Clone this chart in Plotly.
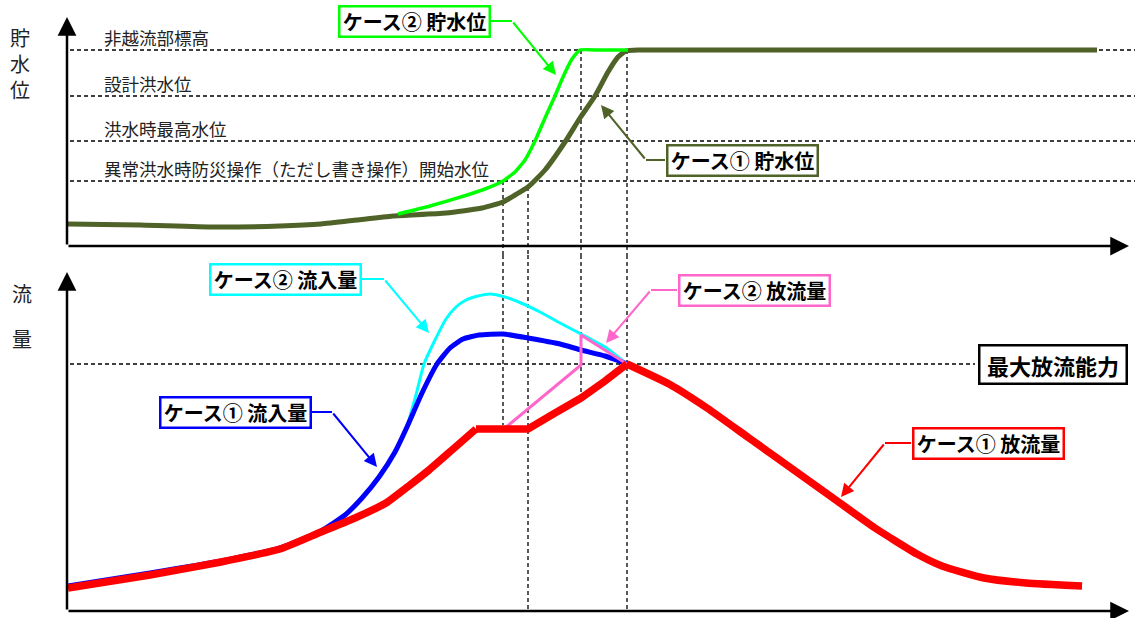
import plotly.graph_objects as go

# 時間 (任意単位) と 貯水位・流量 (任意単位)
t_level1 = [1, 73, 147, 213, 254, 290, 326, 379, 415, 436, 448, 461, 478, 498, 513, 528, 541, 551, 559, 573, 1030]
level1 = [22, 21, 19, 20, 22, 26, 30, 33, 38, 44, 51, 59, 76, 104, 128, 150, 174, 189, 195, 196, 196]

t_level2 = [331, 363, 397, 418, 436, 448, 458, 468, 478, 488, 496, 505, 513, 533, 561]
level2 = [32, 40, 50, 57, 65, 74, 86, 105, 128, 150, 169, 187, 196, 196, 196]

t_in1 = [1, 83, 154, 213, 254, 278, 295, 312, 328, 340, 355, 370, 383, 396, 412, 436, 461, 493, 514,
         538, 560, 602, 640, 682, 724, 766, 808, 850, 875, 917, 959, 1015]
in1 = [25, 38, 50, 63, 80, 96, 113, 134, 159, 184, 218, 247, 263, 272, 276, 277, 273, 267, 261,
       255, 247, 227, 203, 173, 143, 113, 83, 57, 45, 33, 28, 25]

t_in2 = [340, 349, 357, 368, 379, 389, 399, 411, 423, 438, 454, 473, 493, 514, 538, 560]
in2 = [184, 216, 247, 271, 292, 304, 311, 315, 317, 314, 308, 299, 288, 277, 264, 247]

t_out1 = [1, 83, 154, 213, 254, 288, 319, 343, 362, 385, 409, 461, 488, 514, 538, 560,
          602, 640, 682, 724, 766, 808, 850, 875, 917, 959, 1015]
out1 = [23, 36, 49, 62, 79, 93, 108, 126, 141, 161, 182, 182, 198, 213, 230, 247,
        227, 203, 173, 143, 113, 83, 57, 45, 33, 28, 25]

t_out2 = [438, 514, 514, 560]
out2 = [183, 246, 276, 247]

level_names = ['非越流部標高', '設計洪水位', '洪水時最高水位', '異常洪水時防災操作（ただし書き操作）開始水位']
level_values = [196, 150, 105, 65]
q_max = 247

# 時刻の目印 (縦の破線)
mark_t = [436, 461, 514, 560]
mark_level_top = [65, 59, 196, 196]
mark_flow_end = [186, 0, 213, 0]

FONT = 'Noto Sans CJK JP'
OLIVE = '#4F6228'
GREEN = '#00FF00'
CYAN = '#00FFFF'
BLUE = '#0000FF'
RED = '#FF0000'
PINK = '#FF66CC'
DASH = dict(color='black', width=1.3, dash='4px,3px')

X_RANGE = [-67, 1068]
TOP_RANGE = [-9, 246]
BOT_RANGE = [-7, 356]
SPLIT = 1 - 255 / 618

fig = go.Figure()

# 破線 (上段: 水位, 下段: 最大放流能力)
for v in level_values:
    fig.add_trace(go.Scatter(x=[3, X_RANGE[1]], y=[v, v], mode='lines', line=DASH,
                             xaxis='x', yaxis='y', hoverinfo='skip'))
fig.add_trace(go.Scatter(x=[3, 908], y=[q_max, q_max], mode='lines', line=DASH,
                         xaxis='x', yaxis='y2', hoverinfo='skip'))
for t, top, end in zip(mark_t, mark_level_top, mark_flow_end):
    fig.add_trace(go.Scatter(x=[t, t], y=[top, TOP_RANGE[0]], mode='lines', line=DASH,
                             xaxis='x', yaxis='y', hoverinfo='skip'))
    fig.add_trace(go.Scatter(x=[t, t], y=[BOT_RANGE[1], end], mode='lines', line=DASH,
                             xaxis='x', yaxis='y2', hoverinfo='skip'))

# 貯水位
fig.add_trace(go.Scatter(x=t_level1, y=level1, mode='lines', name='ケース① 貯水位',
                         line=dict(color=OLIVE, width=5, shape='spline', smoothing=0.5),
                         xaxis='x', yaxis='y'))
fig.add_trace(go.Scatter(x=t_level2, y=level2, mode='lines', name='ケース② 貯水位',
                         line=dict(color=GREEN, width=3.5, shape='spline', smoothing=0.4),
                         xaxis='x', yaxis='y'))

# 流量
fig.add_trace(go.Scatter(x=t_in2, y=in2, mode='lines', name='ケース② 流入量',
                         line=dict(color=CYAN, width=3, shape='spline', smoothing=0.5),
                         xaxis='x', yaxis='y2'))
fig.add_trace(go.Scatter(x=t_in1, y=in1, mode='lines', name='ケース① 流入量',
                         line=dict(color=BLUE, width=5, shape='spline', smoothing=0.5),
                         xaxis='x', yaxis='y2'))
fig.add_trace(go.Scatter(x=t_out2, y=out2, mode='lines', name='ケース② 放流量',
                         line=dict(color=PINK, width=3),
                         xaxis='x', yaxis='y2'))

# ケース① 放流量: 上昇部・一定量放流〜ピーク・低減部 (折れ点は角のまま)
plateau_i = t_out1.index(409)
peak_i = t_out1.index(560)
for i0, i1, shape in [(0, plateau_i, 'spline'), (plateau_i, peak_i, 'linear'),
                      (peak_i, len(t_out1) - 1, 'spline')]:
    fig.add_trace(go.Scatter(x=t_out1[i0:i1 + 1], y=out1[i0:i1 + 1], mode='lines',
                             name='ケース① 放流量',
                             line=dict(color=RED, width=7.5, shape=shape, smoothing=0.5),
                             xaxis='x', yaxis='y2'))

annotations = []
shapes = []

# 軸の矢印
for yref, top in [('y', 229), ('y2', 339)]:
    annotations.append(dict(x=0, y=top, ax=0, ay=0, xref='x', yref=yref, axref='x', ayref=yref,
                            text='', showarrow=True, arrowhead=2, arrowsize=1.5,
                            arrowwidth=2.5, arrowcolor='black'))
    annotations.append(dict(x=1062, y=0, ax=0, ay=0, xref='x', yref=yref, axref='x', ayref=yref,
                            text='', showarrow=True, arrowhead=2, arrowsize=1.5,
                            arrowwidth=2.5, arrowcolor='black'))

# 水位名
for name, v in zip(level_names, level_values):
    annotations.append(dict(x=35, y=v + 13, xref='x', yref='y', text=name, showarrow=False,
                            xanchor='left', yanchor='middle',
                            font=dict(family=FONT, size=17.5, color='#222222')))

# 縦軸名
annotations.append(dict(x=-47, y=183, xref='x', yref='y', text='貯<br>水<br>位', showarrow=False,
                        font=dict(family=FONT, size=20, color='#222222')))
for ch, y in [('流', 318), ('量', 273)]:
    annotations.append(dict(x=-45, y=y, xref='x', yref='y2', text=ch, showarrow=False,
                            font=dict(family=FONT, size=20, color='#222222')))

# ラベル枠と引出線
labels = [
    # text, color, center, yref, stub (x0, x1, y), arrow head
    ('ケース② 貯水位', GREEN, (347, 225), 'y', (424, 445, 225), (489, 171)),
    ('ケース① 貯水位', OLIVE, (675, 86), 'y', (598, 579, 86), (534, 141)),
    ('ケース② 流入量', CYAN, (218, 332), 'y2', (294, 317, 332), (362, 278)),
    ('ケース① 流入量', BLUE, (168, 199), 'y2', (244, 265, 199), (310, 144)),
    ('ケース② 放流量', PINK, (687, 321), 'y2', (610, 584, 321), (539, 268)),
    ('ケース① 放流量', RED, (921, 168), 'y2', (844, 818, 168), (774, 114)),
]
for text, color, (cx, cy), yref, (sx0, sx1, sy), (hx, hy) in labels:
    annotations.append(dict(x=cx, y=cy, xref='x', yref=yref, text=text, showarrow=False,
                            width=146, height=26, bgcolor='white', bordercolor=color,
                            borderwidth=2.5, borderpad=1,
                            font=dict(family=FONT, size=20, color='black', weight='bold')))
    shapes.append(dict(type='line', xref='x', yref=yref, x0=sx0, x1=sx1, y0=sy, y1=sy,
                       line=dict(color=color, width=2)))
    annotations.append(dict(x=hx, y=hy, ax=sx1, ay=sy, xref='x', yref=yref, axref='x', ayref=yref,
                            text='', showarrow=True, arrowhead=2, arrowsize=1.3,
                            arrowwidth=2, arrowcolor=color))

annotations.append(dict(x=986, y=q_max, xref='x', yref='y2', text='最大放流能力', showarrow=False,
                        width=143, height=34, bgcolor='white', bordercolor='black',
                        borderwidth=2.5, borderpad=1,
                        font=dict(family=FONT, size=22, color='black', weight='bold')))

axis_off = dict(visible=False, showgrid=False, zeroline=False, fixedrange=True)
fig.update_layout(
    width=1135, height=618,
    margin=dict(l=0, r=0, t=0, b=0),
    paper_bgcolor='white', plot_bgcolor='white',
    showlegend=False,
    xaxis=dict(range=X_RANGE, domain=[0, 1], anchor='y2', **axis_off),
    yaxis=dict(range=TOP_RANGE, domain=[SPLIT, 1], anchor='x', **axis_off),
    yaxis2=dict(range=BOT_RANGE, domain=[0, SPLIT], anchor='x', **axis_off),
    annotations=annotations,
    shapes=shapes,
)

fig.write_html("out.html", config={'displayModeBar': False},
               post_script="document.body.style.margin='0';")
